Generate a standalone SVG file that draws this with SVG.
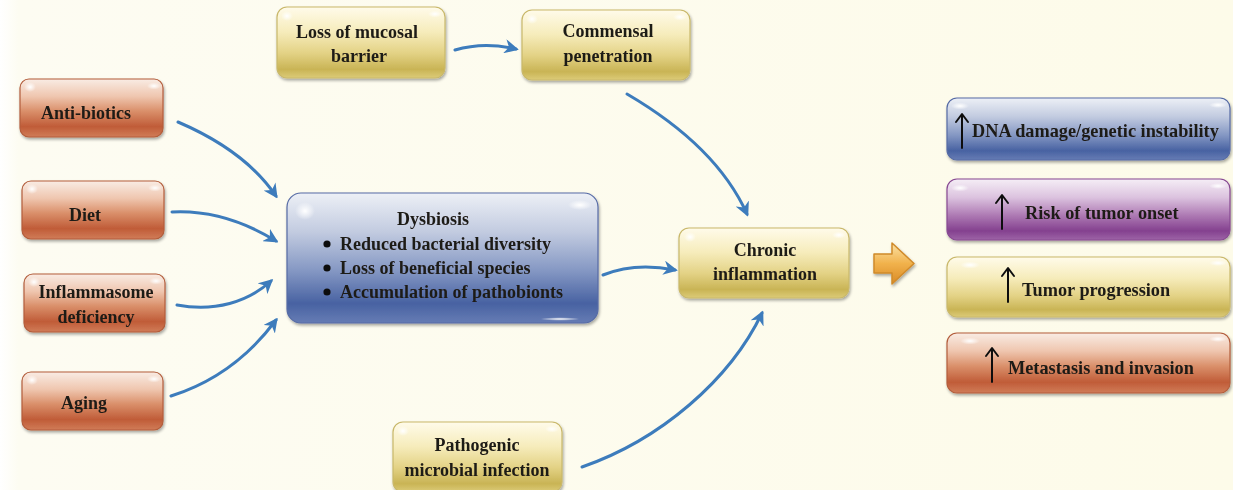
<svg xmlns="http://www.w3.org/2000/svg" width="1233" height="490" viewBox="0 0 1233 490">
  <defs>
    <linearGradient id="gOrange" x1="0" y1="0" x2="0" y2="1">
      <stop offset="0" stop-color="#f9ece4"/>
      <stop offset="0.3" stop-color="#efc6af"/>
      <stop offset="0.55" stop-color="#da906b"/>
      <stop offset="0.82" stop-color="#c05c38"/>
      <stop offset="1" stop-color="#d07c58"/>
    </linearGradient>
    <linearGradient id="gYellow" x1="0" y1="0" x2="0" y2="1">
      <stop offset="0" stop-color="#fffbea"/>
      <stop offset="0.35" stop-color="#f6ecbb"/>
      <stop offset="0.65" stop-color="#e3d285"/>
      <stop offset="0.88" stop-color="#c9b455"/>
      <stop offset="1" stop-color="#dccb78"/>
    </linearGradient>
    <linearGradient id="gBlue" x1="0" y1="0" x2="0" y2="1">
      <stop offset="0" stop-color="#edf0f6"/>
      <stop offset="0.3" stop-color="#c2cbe0"/>
      <stop offset="0.6" stop-color="#8497c3"/>
      <stop offset="0.85" stop-color="#4862a2"/>
      <stop offset="1" stop-color="#667cb4"/>
    </linearGradient>
    <linearGradient id="gPurple" x1="0" y1="0" x2="0" y2="1">
      <stop offset="0" stop-color="#f5eef6"/>
      <stop offset="0.3" stop-color="#dcc3df"/>
      <stop offset="0.6" stop-color="#ad79b3"/>
      <stop offset="0.85" stop-color="#84418f"/>
      <stop offset="1" stop-color="#9d63a6"/>
    </linearGradient>
    <linearGradient id="gArrow" x1="0" y1="0" x2="0" y2="1">
      <stop offset="0" stop-color="#fbe2a6"/>
      <stop offset="0.5" stop-color="#f1b24c"/>
      <stop offset="1" stop-color="#d98a25"/>
    </linearGradient>
    <linearGradient id="gBg" x1="0" y1="0" x2="1" y2="0">
      <stop offset="0" stop-color="#ffffff"/>
      <stop offset="0.015" stop-color="#fdfcf2"/>
      <stop offset="1" stop-color="#fdfbe9"/>
    </linearGradient>
    <radialGradient id="gGlint" cx="0.5" cy="0.5" r="0.5">
      <stop offset="0" stop-color="#ffffff" stop-opacity="1"/>
      <stop offset="1" stop-color="#ffffff" stop-opacity="0"/>
    </radialGradient>
    <filter id="shadow" x="-10%" y="-10%" width="120%" height="130%">
      <feGaussianBlur in="SourceAlpha" stdDeviation="1.5"/>
      <feOffset dx="1" dy="2" result="b"/>
      <feComponentTransfer><feFuncA type="linear" slope="0.35"/></feComponentTransfer>
      <feMerge><feMergeNode/><feMergeNode in="SourceGraphic"/></feMerge>
    </filter>
    <marker id="head" viewBox="0 0 10 10" refX="8" refY="5" markerWidth="4.8" markerHeight="4.8" orient="auto" markerUnits="strokeWidth">
      <path d="M0,0 L10,5 L0,10 L3,5 Z" fill="#3d7cbc"/>
    </marker>
  </defs>
  <style>
    .box { filter: url(#shadow); }
    .or { fill: url(#gOrange); stroke: #b35d3b; stroke-width: 1.2; }
    .ye { fill: url(#gYellow); stroke: #c9b86a; stroke-width: 1.2; }
    .bl { fill: url(#gBlue); stroke: #566ba5; stroke-width: 1.2; }
    .pu { fill: url(#gPurple); stroke: #874892; stroke-width: 1.2; }
    .glint { fill: url(#gGlint); }
    .lbl { font-family: "Liberation Serif", "Times New Roman", serif; font-weight: bold; font-size: 18px; fill: #1f1a17; text-anchor: middle; }
    .big { font-size: 18px; }
    .out { font-size: 18.3px; }
    .lft { text-anchor: start; }
    .conn path { fill: none; stroke: #3d7cbc; stroke-width: 3; stroke-linecap: round; marker-end: url(#head); }
    .up { fill: none; stroke: #111; stroke-width: 2; stroke-linecap: round; stroke-linejoin: round; }
  </style>

  <rect x="0" y="0" width="1233" height="490" fill="url(#gBg)"/>

  <!-- connectors -->
  <g id="connectors" class="conn">
    <path d="M178,122 C220,140 255,165 276,196"/>
    <path d="M172,212 C210,210 245,222 276,241"/>
    <path d="M177,305 C215,312 248,302 271,281"/>
    <path d="M171,396 C215,382 250,355 276,320"/>
    <path d="M455,50 C475,44 495,44 516,49"/>
    <path d="M627,94 C680,125 725,165 747,214"/>
    <path d="M603,275 C625,266 650,265 675,270"/>
    <path d="M582,467 C660,440 730,380 762,313"/>
  </g>

  <!-- left causes -->
  <g id="antibiotics" class="box">
    <rect class="or" x="20" y="79" width="143" height="58" rx="9"/>
    <ellipse class="glint" cx="30" cy="87" rx="6" ry="5"/>
    <ellipse class="glint" cx="154" cy="86" rx="7" ry="3.5"/>
    <text class="lbl" x="86" y="119">Anti-biotics</text>
  </g>
  <g id="diet" class="box">
    <rect class="or" x="22" y="181" width="142" height="58" rx="9"/>
    <ellipse class="glint" cx="32" cy="189" rx="6" ry="5"/>
    <ellipse class="glint" cx="155" cy="188" rx="7" ry="3.5"/>
    <text class="lbl" x="85" y="221">Diet</text>
  </g>
  <g id="inflammasome" class="box">
    <rect class="or" x="24" y="274" width="141" height="58" rx="9"/>
    <ellipse class="glint" cx="34" cy="282" rx="6" ry="5"/>
    <ellipse class="glint" cx="156" cy="281" rx="7" ry="3.5"/>
    <text class="lbl" x="96" y="298">Inflammasome</text>
    <text class="lbl" x="96" y="323">deficiency</text>
  </g>
  <g id="aging" class="box">
    <rect class="or" x="22" y="372" width="141" height="58" rx="9"/>
    <ellipse class="glint" cx="32" cy="380" rx="6" ry="5"/>
    <ellipse class="glint" cx="154" cy="379" rx="7" ry="3.5"/>
    <text class="lbl" x="84" y="409">Aging</text>
  </g>

  <!-- central dysbiosis -->
  <g id="dysbiosis" class="box">
    <rect class="bl" x="287" y="193" width="311" height="130" rx="14"/>
    <ellipse class="glint" cx="305" cy="211" rx="10" ry="9"/>
    <ellipse class="glint" cx="580" cy="205" rx="12" ry="5"/>
    <ellipse class="glint" cx="560" cy="319" rx="20" ry="1.8"/>
    <text class="lbl big" x="433" y="225">Dysbiosis</text>
    <circle cx="327" cy="244" r="3.6" fill="#111"/>
    <circle cx="327" cy="268" r="3.6" fill="#111"/>
    <circle cx="327" cy="292" r="3.6" fill="#111"/>
    <text class="lbl big lft" x="340" y="250">Reduced bacterial diversity</text>
    <text class="lbl big lft" x="340" y="274">Loss of beneficial species</text>
    <text class="lbl big lft" x="340" y="298">Accumulation of pathobionts</text>
  </g>

  <!-- barrier / penetration / infection -->
  <g id="mucosal" class="box">
    <rect class="ye" x="277" y="7" width="168" height="71" rx="10"/>
    <ellipse class="glint" cx="287" cy="16" rx="6" ry="5"/>
    <ellipse class="glint" cx="435" cy="14" rx="7" ry="3.5"/>
    <text class="lbl" x="357" y="38">Loss of mucosal</text>
    <text class="lbl" x="359" y="62">barrier</text>
  </g>
  <g id="commensal" class="box">
    <rect class="ye" x="522" y="10" width="168" height="70" rx="10"/>
    <ellipse class="glint" cx="532" cy="19" rx="6" ry="5"/>
    <ellipse class="glint" cx="680" cy="17" rx="7" ry="3.5"/>
    <text class="lbl" x="608" y="37">Commensal</text>
    <text class="lbl" x="608" y="62">penetration</text>
  </g>
  <g id="pathogenic" class="box">
    <rect class="ye" x="393" y="422" width="169" height="70" rx="10"/>
    <ellipse class="glint" cx="403" cy="431" rx="6" ry="5"/>
    <ellipse class="glint" cx="552" cy="429" rx="7" ry="3.5"/>
    <text class="lbl" x="477" y="451">Pathogenic</text>
    <text class="lbl" x="477" y="476">microbial infection</text>
  </g>

  <!-- chronic inflammation -->
  <g id="chronic" class="box">
    <rect class="ye" x="679" y="228" width="170" height="70" rx="10"/>
    <ellipse class="glint" cx="690" cy="237" rx="6" ry="5"/>
    <ellipse class="glint" cx="839" cy="235" rx="7" ry="3.5"/>
    <text class="lbl big" x="765" y="256">Chronic</text>
    <text class="lbl big" x="765" y="280">inflammation</text>
  </g>

  <!-- block arrow to outcomes -->
  <g id="outcome-arrow" class="box">
    <path d="M874,254 L892,254 L892,243 L914,263.5 L892,284 L892,273 L874,273 Z" fill="url(#gArrow)" stroke="#d08a2a" stroke-width="1.5" stroke-linejoin="round"/>
  </g>

  <!-- outcomes -->
  <g id="dna" class="box">
    <rect class="bl" x="947" y="98" width="283" height="62" rx="10"/>
    <ellipse class="glint" cx="960" cy="106" rx="9" ry="3.5"/>
    <ellipse class="glint" cx="1218" cy="105" rx="9" ry="3"/>
    <path class="up" d="M962,148 V115 M956,122 L962,114 L968,122"/>
    <text class="lbl out lft" x="972" y="137">DNA damage/genetic instability</text>
  </g>
  <g id="risk" class="box">
    <rect class="pu" x="947" y="179" width="283" height="61" rx="10"/>
    <ellipse class="glint" cx="960" cy="188" rx="9" ry="3.5"/>
    <ellipse class="glint" cx="1218" cy="186" rx="9" ry="3"/>
    <path class="up" d="M1002,229 V196 M996,203 L1002,195 L1008,203"/>
    <text class="lbl out lft" x="1025" y="219">Risk of tumor onset</text>
  </g>
  <g id="progression" class="box">
    <rect class="ye" x="947" y="257" width="283" height="60" rx="10"/>
    <ellipse class="glint" cx="970" cy="265" rx="10" ry="3.5"/>
    <ellipse class="glint" cx="1218" cy="263" rx="9" ry="3"/>
    <path class="up" d="M1008,302 V269 M1002,276 L1008,268 L1014,276"/>
    <text class="lbl out lft" x="1022" y="296">Tumor progression</text>
  </g>
  <g id="metastasis" class="box">
    <rect class="or" x="947" y="333" width="283" height="60" rx="10"/>
    <ellipse class="glint" cx="970" cy="341" rx="10" ry="3.5"/>
    <ellipse class="glint" cx="1218" cy="339" rx="9" ry="3"/>
    <path class="up" d="M992,382 V349 M986,356 L992,348 L998,356"/>
    <text class="lbl out lft" x="1008" y="374">Metastasis and invasion</text>
  </g>
</svg>
